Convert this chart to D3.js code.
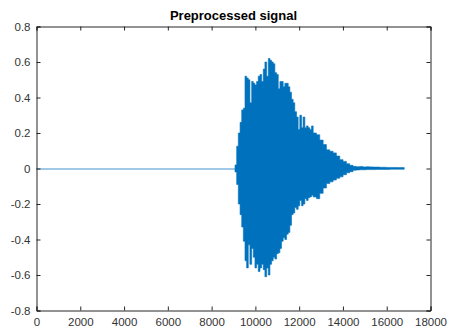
<!DOCTYPE html>
<html>
<head>
<meta charset="utf-8">
<script src="https://cdn.jsdelivr.net/npm/d3@7"></script>
<style>
  html, body { margin: 0; padding: 0; background: #fff; }
  svg { display: block; font-family: "Liberation Sans", Arial, Helvetica, sans-serif; }
</style>
</head>
<body>
<svg id="chart" width="450" height="331"></svg>
<script>
// Signal envelope: peak (upper) and trough (lower) amplitude per sample window
const sampleIdx = [
  9070, 9145, 9220, 9300, 9375, 9450, 9525, 9600, 9675, 9750,
  9830, 9905, 9980, 10055, 10130, 10210, 10285, 10360, 10435, 10515,
  10590, 10665, 10740, 10815, 10890, 10970, 11045, 11120, 11195, 11270,
  11345, 11425, 11500, 11575, 11650, 11725, 11800, 11880, 11955, 12030,
  12110, 12180, 12260, 12335, 12410, 12485, 12565, 12640,
  12790, 12940, 13095, 13245, 13400, 13550, 13700, 13855, 14005, 14160,
  14310, 14460, 14610, 14765, 14915, 15065, 15220, 15370, 15520, 15675,
  15825, 15980, 16130, 16280, 16435, 16585, 16740, 16800
];
const upperEnv = [
  0.02, 0.126, 0.20, 0.26, 0.33, 0.34, 0.52, 0.51, 0.50, 0.37,
  0.49, 0.48, 0.47, 0.49, 0.52, 0.53, 0.49, 0.56, 0.60, 0.52,
  0.62, 0.61, 0.60, 0.59, 0.54, 0.53, 0.45, 0.49, 0.49, 0.46,
  0.48, 0.48, 0.46, 0.43, 0.39, 0.37, 0.32, 0.29, 0.22, 0.30,
  0.23, 0.29, 0.23, 0.24, 0.23, 0.22, 0.24, 0.20,
  0.19, 0.16, 0.135, 0.105, 0.097, 0.088, 0.07, 0.05, 0.04, 0.027,
  0.018, 0.012, 0.010, 0.011, 0.009, 0.010, 0.009, 0.008, 0.008, 0.007,
  0.007, 0.006, 0.006, 0.006, 0.005, 0.005, 0.005, 0.005
];
const lowerEnv = [
  -0.02, -0.09, -0.20, -0.26, -0.33, -0.41, -0.52, -0.56, -0.43, -0.54,
  -0.45, -0.50, -0.56, -0.54, -0.58, -0.56, -0.54, -0.57, -0.61, -0.56,
  -0.60, -0.54, -0.52, -0.50, -0.51, -0.48, -0.475, -0.45, -0.41, -0.39,
  -0.40, -0.37, -0.36, -0.32, -0.26, -0.25, -0.22, -0.23, -0.21, -0.18,
  -0.21, -0.20, -0.17, -0.18, -0.165, -0.16, -0.15, -0.16,
  -0.17, -0.14, -0.11, -0.085, -0.075, -0.065, -0.055, -0.047, -0.035, -0.024,
  -0.018, -0.010, -0.008, -0.007, -0.007, -0.006, -0.006, -0.006, -0.005, -0.005,
  -0.005, -0.005, -0.004, -0.004, -0.004, -0.004, -0.004, -0.004
];

// Quiet lead-in before the onset
const leadSamples = [0, 9070];
const leadValues = [0, 0];

const xTicks = [0, 2000, 4000, 6000, 8000, 10000, 12000, 14000, 16000, 18000];
const yTicks = [-0.8, -0.6, -0.4, -0.2, 0, 0.2, 0.4, 0.6, 0.8];
const titleText = "Preprocessed signal";

const plot = { left: 36.5, right: 430.5, top: 26.5, bottom: 310.5 };
const blue = "#0072BD";
const axisColor = "#262626";

const svg = d3.select("#chart");

const x = d3.scaleLinear().domain([0, 18000]).range([plot.left, plot.right]);
const y = d3.scaleLinear().domain([-0.8, 0.8]).range([plot.bottom, plot.top]);

// Signal
const env = sampleIdx.map((s, i) => ({ s, hi: upperEnv[i], lo: lowerEnv[i] }));
const area = d3.area()
  .x(d => x(d.s))
  .y0(d => y(d.lo))
  .y1(d => y(d.hi))
  .curve(d3.curveStepAfter);

svg.append("path")
  .datum(leadSamples.map((s, i) => ({ s, v: leadValues[i] })))
  .attr("fill", "none")
  .attr("stroke", blue)
  .attr("stroke-opacity", 0.75)
  .attr("stroke-width", 1.2)
  .attr("d", d3.line().x(d => x(d.s)).y(d => Math.round(y(d.v))));

svg.append("path")
  .datum(env)
  .attr("fill", blue)
  .attr("stroke", blue)
  .attr("stroke-width", 0.6)
  .attr("d", area);

// Axes box with inward ticks
const fmtY = d => (d === 0 ? "0" : d3.format(".1f")(d).replace("\u2212", "-"));
const tickLen = 4;

const axBottom = d3.axisBottom(x).tickValues(xTicks).tickSize(-tickLen).tickPadding(7).tickFormat(d3.format("d"));
const axTop = d3.axisTop(x).tickValues(xTicks).tickSize(-tickLen).tickFormat("");
const axLeft = d3.axisLeft(y).tickValues(yTicks).tickSize(-tickLen).tickPadding(6).tickFormat(fmtY);
const axRight = d3.axisRight(y).tickValues(yTicks).tickSize(-tickLen).tickFormat("");

function styleAxis(g) {
  g.select(".domain").attr("stroke", axisColor).attr("stroke-width", 1);
  g.selectAll(".tick line").attr("stroke", axisColor);
  g.selectAll(".tick text")
    .attr("fill", "#333")
    .style("font-family", "\"Liberation Sans\", Arial, sans-serif")
    .style("font-size", "11.5px");
}

svg.append("g").attr("transform", `translate(0,${plot.bottom})`).call(axBottom).call(styleAxis);
svg.append("g").attr("transform", `translate(0,${plot.top})`).call(axTop).call(styleAxis);
svg.append("g").attr("transform", `translate(${plot.left},0)`).call(axLeft).call(styleAxis);
svg.append("g").attr("transform", `translate(${plot.right},0)`).call(axRight).call(styleAxis);

// Title
svg.append("text")
  .attr("x", (plot.left + plot.right) / 2)
  .attr("y", 20)
  .attr("text-anchor", "middle")
  .attr("fill", "#000")
  .style("font-weight", "bold")
  .style("font-size", "13px")
  .text(titleText);
</script>
</body>
</html>
